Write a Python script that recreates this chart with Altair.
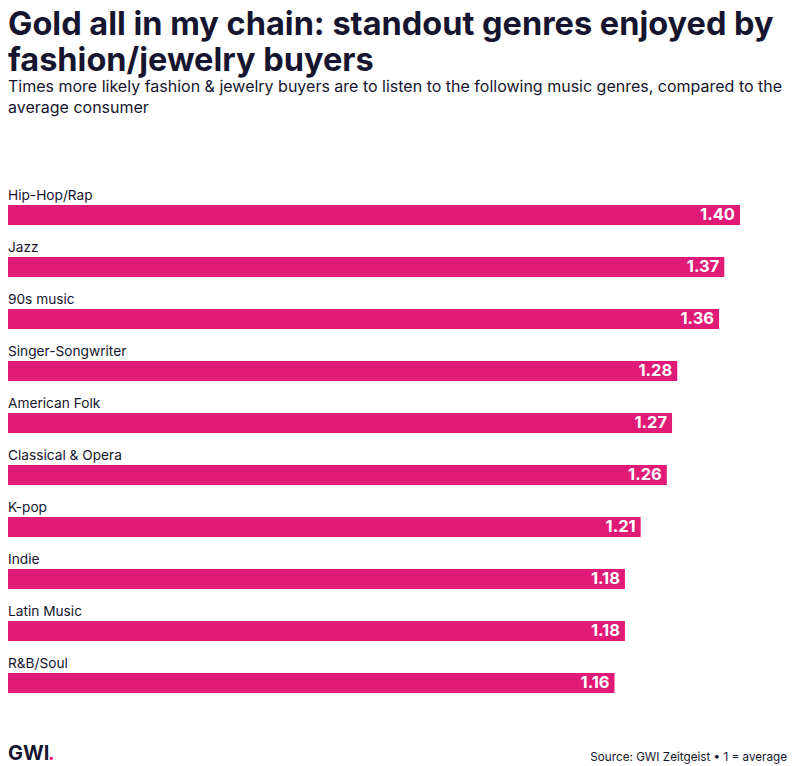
import altair as alt
import pandas as pd

genres = ["Hip-Hop/Rap", "Jazz", "90s music", "Singer-Songwriter", "American Folk",
          "Classical & Opera", "K-pop", "Indie", "Latin Music", "R&B/Soul"]
values = [1.40, 1.37, 1.36, 1.28, 1.27, 1.26, 1.21, 1.18, 1.18, 1.16]
labels = [f"{v:.2f}" for v in values]

title_lines = ["Gold all in my chain: standout genres enjoyed by", "fashion/jewelry buyers"]
subtitle_lines = ["Times more likely fashion & jewelry buyers are to listen to the following music genres, compared to the",
                  "average consumer"]
source_text = "Source: GWI Zeitgeist \u2022 1 = average"

PINK = "#E01A77"
DARK = "#16152F"
FONT = "Inter"

df = pd.DataFrame({"genre": genres, "value": values, "label": labels})

base = alt.Chart(df).encode(
    y=alt.Y("genre:N", sort=genres, axis=None,
            scale=alt.Scale(paddingInner=0, paddingOuter=0))
)
xenc = alt.X("value:Q", axis=None, scale=alt.Scale(domain=[0, 1.4], nice=False, zero=True))

bars = base.mark_bar(color=PINK, size=20).encode(x=xenc)
vals = base.mark_text(align="right", dx=-5, baseline="middle", color="white",
                      fontWeight="bold", fontSize=16.5, font=FONT).encode(x=xenc, text="label:N")
cats = base.mark_text(align="left", baseline="bottom", dy=-12, fontSize=13.7,
                      color=DARK, font=FONT).encode(x=alt.value(0), text="genre:N")

logo = alt.Chart(pd.DataFrame({"t": ["GWI"]})).mark_text(
    align="left", baseline="alphabetic", fontSize=20, fontWeight="bold", color=DARK, font=FONT
).encode(x=alt.value(0), y=alt.value(571), text="t:N")
dot = alt.Chart(pd.DataFrame({"t": ["."]})).mark_text(
    align="left", baseline="alphabetic", fontSize=20, fontWeight="bold", color="#FF0A78", font=FONT
).encode(x=alt.value(40), y=alt.value(571), text="t:N")
source = alt.Chart(pd.DataFrame({"t": [source_text]})).mark_text(
    align="right", baseline="alphabetic", fontSize=11.7, color=DARK, font=FONT
).encode(x=alt.value(779), y=alt.value(572), text="t:N")

chart = alt.layer(bars, vals, cats, logo, dot, source).properties(
    width=732, height=520,
    padding={"left": 0, "top": 0, "right": 0, "bottom": 0},
    title=alt.TitleParams(
        text=title_lines, subtitle=subtitle_lines, anchor="start",
        fontSize=32.5, fontWeight="bold", font=FONT, color=DARK, lineHeight=36,
        subtitleFontSize=16, subtitleFont=FONT, subtitleColor=DARK, subtitleLineHeight=21,
        subtitlePadding=2, offset=73
    )
).configure_view(stroke=None)

chart.save("out.html", embed_options={"renderer": "svg", "actions": False})
